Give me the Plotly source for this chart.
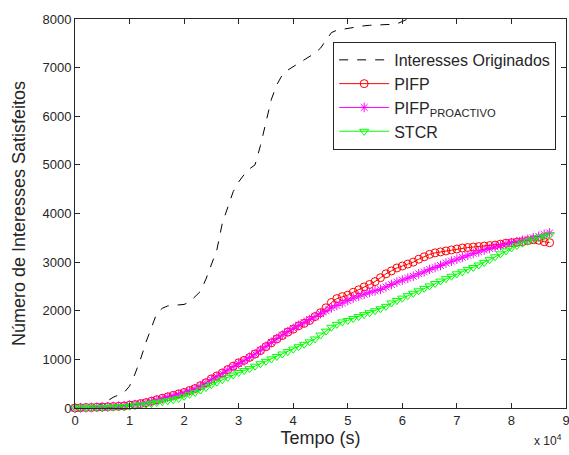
import plotly.graph_objects as go

# time grid (s) for the dashed curve and the three marker series
t_orig = [0, 1000, 2000, 3000, 4000, 5000, 6000, 7000, 8000, 9000,
          10000, 11000, 12000, 13000, 14000, 15000, 16000, 17000, 18000, 19000,
          20000, 21000, 22000, 23000, 24000, 25000, 26000, 27000, 28000, 29000,
          30000, 31000, 32000, 33000, 34000, 35000, 36000, 37000, 38000, 39000,
          40000, 41000, 42000, 43000, 44000, 45000, 46000, 47000, 48000, 49000,
          50000, 51000, 52000, 53000, 54000, 55000, 56000, 57000, 58000, 59000,
          60000, 61000]

interesses_originados = [0, 0, 10, 20, 40, 80, 150, 220, 270, 320,
                         450, 700, 1000, 1350, 1650, 1950, 2050, 2100, 2110, 2120,
                         2130, 2180, 2280, 2400, 2650, 2950, 3250, 3800, 4150, 4450,
                         4650, 4800, 4920, 5000, 5400, 5900, 6350, 6650, 6850, 6950,
                         7020, 7080, 7150, 7220, 7300, 7400, 7560, 7720, 7770, 7790,
                         7810, 7830, 7850, 7860, 7870, 7880, 7880, 7885, 7890, 7900,
                         7950, 8000]

t_series = [0, 1000, 2000, 3000, 4000, 5000, 6000, 7000, 8000, 9000,
            10000, 11000, 12000, 13000, 14000, 15000, 16000, 17000, 18000, 19000,
            20000, 21000, 22000, 23000, 24000, 25000, 26000, 27000, 28000, 29000,
            30000, 31000, 32000, 33000, 34000, 35000, 36000, 37000, 38000, 39000,
            40000, 41000, 42000, 43000, 44000, 45000, 46000, 47000, 48000, 49000,
            50000, 51000, 52000, 53000, 54000, 55000, 56000, 57000, 58000, 59000,
            60000, 61000, 62000, 63000, 64000, 65000, 66000, 67000, 68000, 69000,
            70000, 71000, 72000, 73000, 74000, 75000, 76000, 77000, 78000, 79000,
            80000, 81000, 82000, 83000, 84000, 85000, 86000, 87000]

pifp = [0, 5, 10, 10, 15, 20, 25, 30, 35, 40,
        60, 70, 90, 110, 140, 170, 200, 230, 260, 290,
        320, 360, 400, 460, 520, 600, 660, 720, 790, 860,
        930, 980, 1040, 1110, 1180, 1260, 1340, 1420, 1490, 1560,
        1620, 1690, 1740, 1800, 1880, 1960, 2060, 2170, 2250, 2290,
        2320, 2380, 2430, 2490, 2540, 2600, 2680, 2760, 2820, 2880,
        2920, 2960, 3000, 3060, 3110, 3160, 3190, 3210, 3230, 3250,
        3270, 3290, 3300, 3310, 3320, 3330, 3340, 3350, 3370, 3390,
        3400, 3410, 3420, 3440, 3460, 3450, 3420, 3400]

pifp_proactivo = [0, 5, 5, 10, 15, 20, 25, 30, 35, 45,
                  55, 70, 85, 105, 130, 160, 190, 220, 250, 280,
                  310, 350, 395, 450, 510, 580, 640, 710, 780, 850,
                  910, 970, 1040, 1110, 1190, 1270, 1350, 1430, 1500, 1570,
                  1640, 1700, 1760, 1820, 1880, 1940, 2000, 2060, 2110, 2160,
                  2210, 2260, 2300, 2340, 2380, 2410, 2440, 2490, 2540, 2590,
                  2630, 2670, 2710, 2760, 2800, 2850, 2890, 2930, 2980, 3020,
                  3060, 3100, 3140, 3180, 3210, 3250, 3280, 3310, 3340, 3370,
                  3400, 3420, 3450, 3470, 3500, 3530, 3570, 3600]

stcr = [0, 5, 5, 5, 10, 10, 15, 20, 25, 30,
        40, 50, 60, 75, 90, 110, 130, 150, 170, 195,
        240, 280, 320, 370, 420, 480, 530, 580, 630, 680,
        730, 770, 810, 860, 910, 960, 1010, 1060, 1110, 1160,
        1210, 1260, 1310, 1360, 1420, 1500, 1580, 1660, 1720, 1770,
        1800, 1840, 1880, 1920, 1960, 2000, 2040, 2090, 2160, 2210,
        2260, 2310, 2360, 2410, 2460, 2510, 2560, 2610, 2660, 2710,
        2760, 2800, 2850, 2890, 2940, 2990, 3050, 3110, 3170, 3230,
        3290, 3340, 3390, 3430, 3460, 3500, 3530, 3560]

x_tickvals = [0, 10000, 20000, 30000, 40000, 50000, 60000, 70000, 80000, 90000]
x_ticktext = ["0", "1", "2", "3", "4", "5", "6", "7", "8", "9"]
y_tickvals = [0, 1000, 2000, 3000, 4000, 5000, 6000, 7000, 8000]

FONT = "Liberation Sans, Arial, sans-serif"
INK = "#262626"

fig = go.Figure()
fig.add_trace(go.Scatter(
    x=t_orig, y=interesses_originados, mode="lines", name="Interesses Originados",
    line=dict(color="black", width=1, dash="dash")))
fig.add_trace(go.Scatter(
    x=t_series, y=pifp, mode="lines+markers", name="PIFP",
    line=dict(color="#ff0000", width=1),
    marker=dict(symbol="circle-open", size=8, color="#ff0000", line=dict(width=1)),
    cliponaxis=False))
fig.add_trace(go.Scatter(
    x=t_series, y=pifp_proactivo, mode="lines+markers",
    name="PIFP<sub>PROACTIVO</sub>",
    line=dict(color="#ff00ff", width=1),
    marker=dict(symbol="asterisk-open", size=8, color="#ff00ff", line=dict(width=1, color="#ff00ff")),
    cliponaxis=False))
fig.add_trace(go.Scatter(
    x=t_series, y=stcr, mode="lines+markers", name="STCR",
    line=dict(color="#00ff00", width=1),
    marker=dict(symbol="triangle-down-open", size=8, color="#00ff00", line=dict(width=1)),
    cliponaxis=False))

axis_common = dict(showline=True, linecolor=INK, linewidth=1, mirror="ticks",
                   ticks="inside", ticklen=5, tickcolor=INK, showgrid=False,
                   zeroline=False, ticklabeloverflow="allow",
                   tickfont=dict(family=FONT, size=13, color=INK))

fig.update_xaxes(range=[0, 90000], tickvals=x_tickvals, ticktext=x_ticktext,
                 title=dict(text="Tempo (s)", font=dict(family=FONT, size=18, color=INK),
                            standoff=3),
                 **axis_common)
fig.update_yaxes(range=[0, 8000], tickvals=y_tickvals,
                 title=dict(text="Número de Interesses Satisfeitos",
                            font=dict(family=FONT, size=18, color=INK), standoff=12),
                 **axis_common)

fig.add_annotation(text="x 10<sup>4</sup>", xref="paper", yref="paper", x=0.995, y=-0.083,
                   xanchor="right", yanchor="middle", showarrow=False,
                   font=dict(family=FONT, size=12, color=INK))

fig.update_layout(
    width=569, height=455,
    margin=dict(l=75, r=3, t=19, b=47, autoexpand=False),
    paper_bgcolor="white", plot_bgcolor="white",
    font=dict(family=FONT, size=13, color=INK),
    legend=dict(x=0.98, y=0.941, xanchor="right", yanchor="top",
                bgcolor="white", bordercolor=INK, borderwidth=1,
                font=dict(family=FONT, size=16, color=INK),
                tracegroupgap=0, itemwidth=50),
)

fig.write_html("out.html", config={"displayModeBar": False},
               post_script="document.body.style.margin='0';document.body.style.overflow='hidden';")
